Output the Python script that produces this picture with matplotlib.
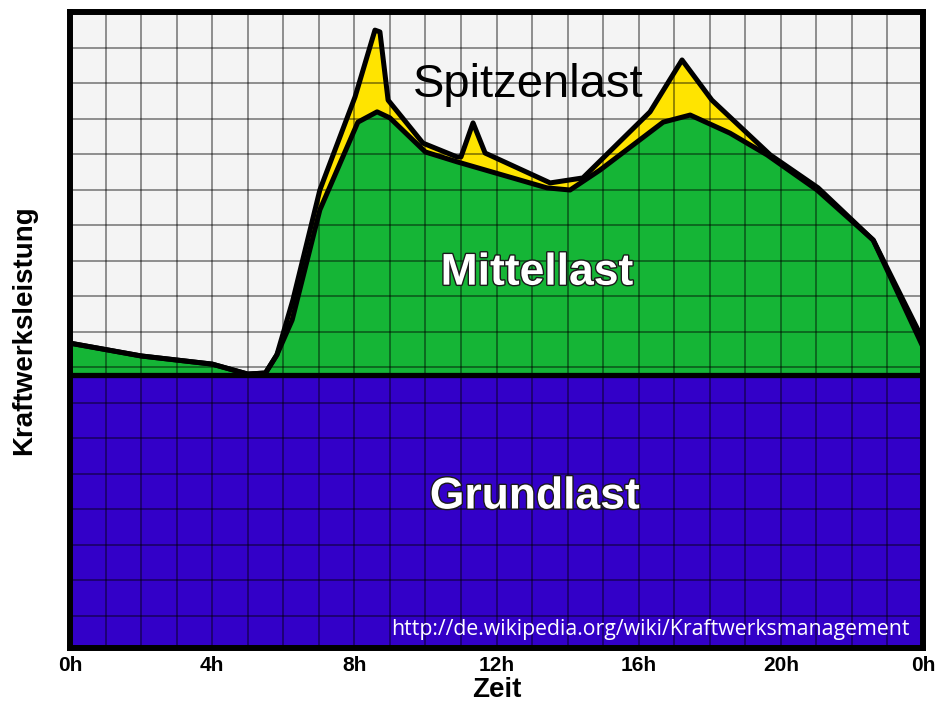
import matplotlib
matplotlib.use("Agg")
import matplotlib.pyplot as plt
import matplotlib.patheffects as pe
import numpy as np

plt.rcParams['font.family'] = ['Liberation Sans', 'DejaVu Sans']

# load curves over one day (hours), y in grid units
grund_level = 6.78

mittel_h = [0, 2.0, 4.0, 5.0, 5.5, 5.82, 6.25, 7.03, 8.1, 8.64, 9.0, 10.0,
            10.9, 13.42, 14.07, 14.91, 16.69, 17.45, 18.57, 19.61, 21.02, 22.6, 24]
mittel_y = [7.68, 7.32, 7.09, 6.81, 6.84, 7.35, 8.33, 11.43, 13.9, 14.19, 14.02, 13.06,
            12.78, 12.05, 11.99, 12.55, 13.9, 14.1, 13.59, 12.98, 11.99, 10.58, 7.57]

spitze_h = [0, 2.0, 4.0, 5.0, 5.5, 5.82, 6.27, 7.03, 8.02, 8.58, 8.72, 8.95, 9.93,
            10.89, 11.0, 11.34, 11.68, 13.51, 14.43, 16.32, 17.22, 18.06, 19.7,
            21.05, 22.6, 24]
spitze_y = [7.68, 7.32, 7.09, 6.81, 6.84, 7.35, 8.89, 11.99, 14.61, 16.49, 16.44, 14.52, 13.31,
            12.92, 12.92, 13.88, 13.03, 12.19, 12.33, 14.19, 15.65, 14.52, 12.98,
            12.05, 10.58, 7.77]

xtick_pos = [0, 4, 8, 12, 16, 20, 24]
xtick_lab = ['0h', '4h', '8h', '12h', '16h', '20h', '0h']

BLUE = '#3300c8'
GREEN = '#15b536'
YELLOW = '#ffe400'

fig = plt.figure(figsize=(9.41, 7.05), dpi=100)
ax = fig.add_axes([70/941, 1-648/705, (923-70)/941, (648-12)/705])
ax.set_facecolor('#f4f4f4')

ax.set_xlim(0, 24)
ax.set_ylim(-0.9, 17)

ax.fill_between([0, 24], -0.9, grund_level, color=BLUE, lw=0, zorder=1)
ax.fill_between(spitze_h, grund_level, spitze_y, color=YELLOW, lw=0, zorder=1)
ax.fill_between(mittel_h, grund_level, mittel_y, color=GREEN, lw=0, zorder=1.1)

ax.plot(spitze_h, spitze_y, color='k', lw=3.6, solid_joinstyle='round', zorder=4)
ax.plot(mittel_h, mittel_y, color='k', lw=3.6, solid_joinstyle='round', zorder=4)
ax.axhline(grund_level, color='k', lw=3.8, zorder=4)

ax.set_xticks(xtick_pos)
ax.set_xticklabels(xtick_lab, fontsize=15, fontweight='bold')
ax.set_xticks(np.arange(0, 25, 1), minor=True)
ax.set_yticks(np.arange(0, 17, 1))
ax.set_yticklabels([])
ax.tick_params(which='both', length=0)
ax.tick_params(axis='x', pad=6)
ax.set_axisbelow(False)
ax.grid(which='both', color='k', alpha=0.45, lw=1.3)

for s in ax.spines.values():
    s.set_linewidth(4.3)
    s.set_zorder(5)

ax.set_xlabel('Zeit', fontsize=20, fontweight='bold', labelpad=1)
ax.set_ylabel('Kraftwerksleistung', fontsize=20, fontweight='bold', labelpad=20)

ax.text(12.89, 14.95, 'Spitzenlast', fontsize=34, ha='center', va='center', zorder=6)
outline = [pe.withStroke(linewidth=2.0, foreground='#1a1a1a')]
ax.text(13.14, 9.65, 'Mittellast', fontsize=32, fontweight='bold', color='white',
        ha='center', va='center', zorder=6, path_effects=outline)
ax.text(13.08, 3.35, 'Grundlast', fontsize=32, fontweight='bold', color='white',
        ha='center', va='center', zorder=6, path_effects=outline)
ax.text(23.63, -0.39, 'http://de.wikipedia.org/wiki/Kraftwerksmanagement',
        fontsize=15.3, color='white', ha='right', va='center', family='Open Sans', zorder=6)

fig.savefig('out.png', dpi=100)
